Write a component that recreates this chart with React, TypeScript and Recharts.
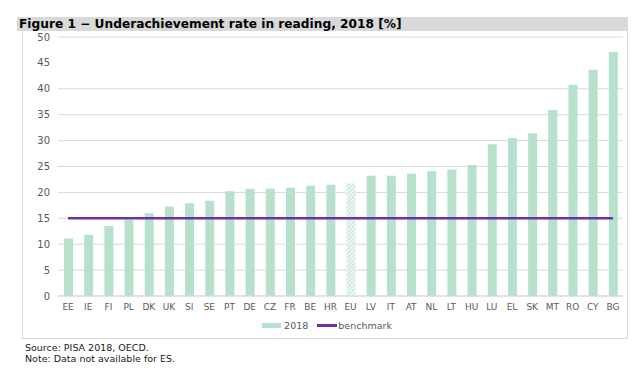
import { Bar, CartesianGrid, Cell, ComposedChart, Line, XAxis, YAxis } from "recharts";

const countries = ["EE", "IE", "FI", "PL", "DK", "UK", "SI", "SE", "PT", "DE", "CZ", "FR", "BE", "HR", "EU", "LV", "IT", "AT", "NL", "LT", "HU", "LU", "EL", "SK", "MT", "RO", "CY", "BG"];
const rate2018 = [11.1, 11.8, 13.5, 14.7, 16.0, 17.3, 17.9, 18.4, 20.2, 20.7, 20.7, 20.9, 21.3, 21.5, 21.7, 23.2, 23.2, 23.6, 24.1, 24.4, 25.3, 29.3, 30.5, 31.4, 35.9, 40.8, 43.7, 47.1];
const benchmark = [15, 15, 15, 15, 15, 15, 15, 15, 15, 15, 15, 15, 15, 15, 15, 15, 15, 15, 15, 15, 15, 15, 15, 15, 15, 15, 15, 15];
const yTicks = [0, 5, 10, 15, 20, 25, 30, 35, 40, 45, 50];

const data = countries.map((c, i) => ({ country: c, value: rate2018[i], benchmark: benchmark[i] }));

const font = "Verdana, 'DejaVu Sans', sans-serif";
const barColor = "#b7e1cd";
const lineColor = "#7030a0";

export default function App() {
  return (
    <div style={{ position: "absolute", left: 0, top: 0, width: 641, height: 370, background: "#fff", fontFamily: font }}>
      <div
        style={{
          position: "absolute",
          left: 17,
          top: 17,
          width: 611,
          height: 14,
          background: "#d9d9d9",
          fontWeight: "bold",
          fontSize: 12.2,
          lineHeight: "15px",
          paddingLeft: 2,
          boxSizing: "border-box",
          color: "#000",
          whiteSpace: "nowrap",
        }}
      >
        Figure 1 − Underachievement rate in reading, 2018 [%]
      </div>
      <div
        style={{
          position: "absolute",
          left: 22,
          top: 31,
          width: 606,
          height: 308,
          borderLeft: "1px solid #d9d9d9",
          borderRight: "1px solid #d9d9d9",
          borderBottom: "1px solid #d9d9d9",
          boxSizing: "border-box",
        }}
      />
      <div style={{ position: "absolute", left: 22, top: 31 }}>
        <ComposedChart width={606} height={290} data={data} margin={{ top: 6, right: 5, bottom: 5, left: 6 }} barCategoryGap={5}>
          <defs>
            <pattern id="hatch" width="3" height="3" patternUnits="userSpaceOnUse" patternTransform="rotate(45)">
              <rect width="3" height="3" fill="#eef8f3" />
              <line x1="0" y1="0" x2="0" y2="3" stroke={barColor} strokeWidth="1.6" />
            </pattern>
          </defs>
          <CartesianGrid vertical={false} stroke="#d9d9d9" />
          <XAxis
            dataKey="country"
            interval={0}
            tickLine={false}
            axisLine={{ stroke: "#d9d9d9" }}
            tick={{ fontSize: 9, fill: "#595959", fontFamily: font }}
            height={20}
          />
          <YAxis
            domain={[0, 50]}
            ticks={yTicks}
            tickLine={false}
            axisLine={false}
            width={30}
            tick={{ fontSize: 10, fill: "#595959", fontFamily: font }}
          />
          <Bar dataKey="value" barSize={9} isAnimationActive={false}>
            {data.map((d) => (
              <Cell key={d.country} fill={d.country === "EU" ? "url(#hatch)" : barColor} />
            ))}
          </Bar>
          <Line dataKey="benchmark" stroke={lineColor} strokeWidth={2.5} dot={false} activeDot={false} isAnimationActive={false} />
        </ComposedChart>
      </div>
      <div
        style={{
          position: "absolute",
          left: 0,
          top: 319,
          width: 654,
          height: 12,
          display: "flex",
          justifyContent: "center",
          alignItems: "center",
          fontSize: 9.5,
          color: "#595959",
          gap: 9,
        }}
      >
        <span style={{ display: "flex", alignItems: "center" }}>
          <span style={{ display: "inline-block", width: 19, height: 5, background: barColor, marginRight: 3 }} />
          2018
        </span>
        <span style={{ display: "flex", alignItems: "center" }}>
          <span style={{ display: "inline-block", width: 20, height: 3, background: lineColor, marginRight: 1 }} />
          benchmark
        </span>
      </div>
      <div style={{ position: "absolute", left: 25, top: 342, fontSize: 9.5, lineHeight: "11px", color: "#1a1a1a" }}>
        <div>Source: PISA 2018, OECD.</div>
        <div>Note: Data not available for ES.</div>
      </div>
    </div>
  );
}
